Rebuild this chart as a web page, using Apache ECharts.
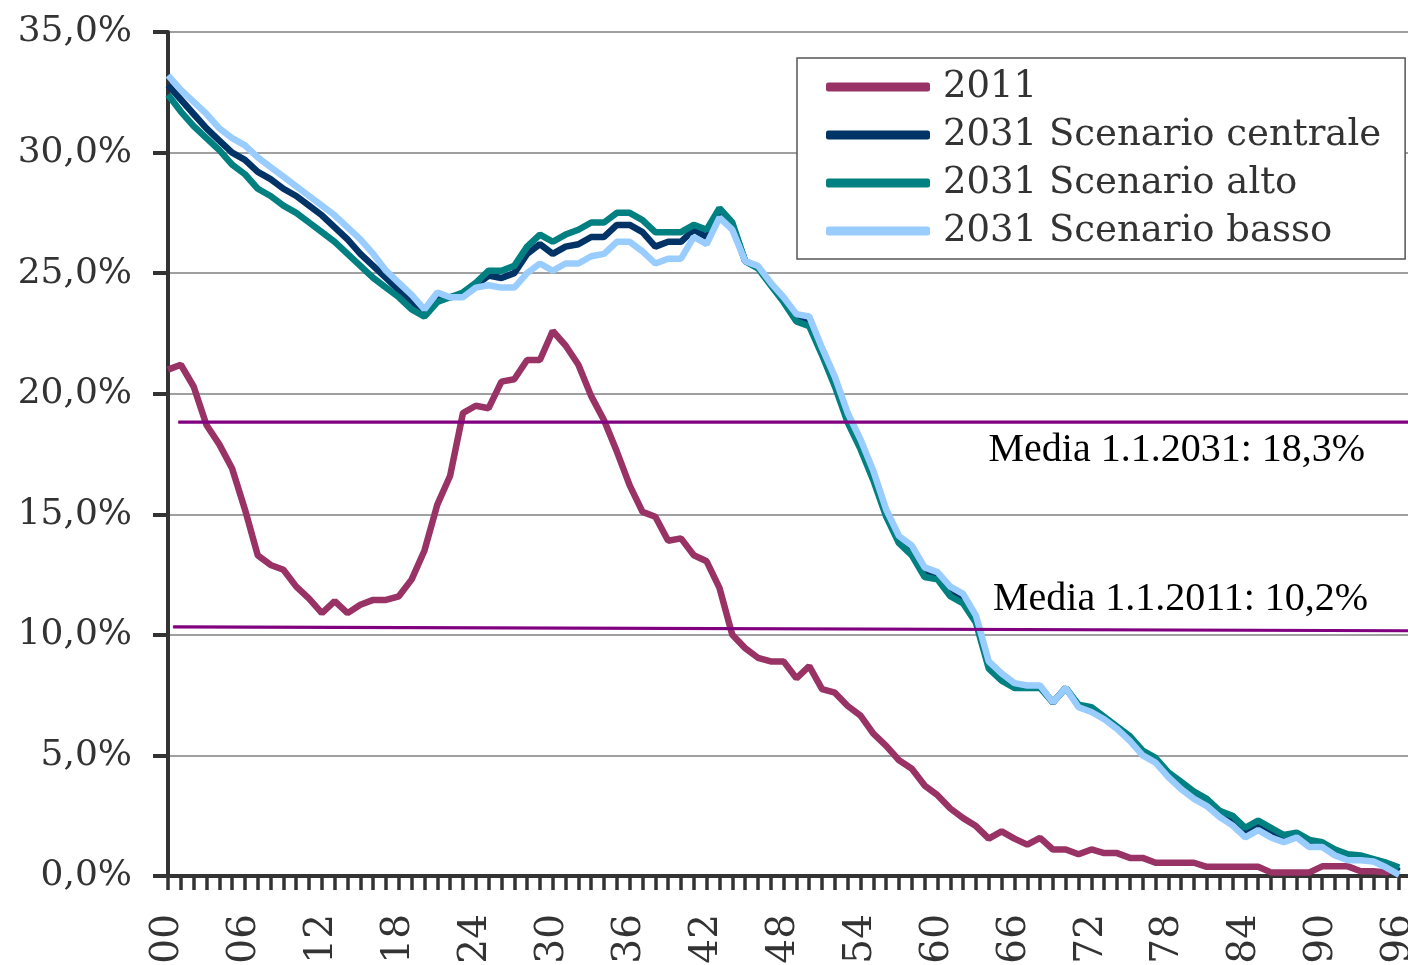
<!DOCTYPE html>
<html>
<head>
<meta charset="utf-8">
<script src="https://cdn.jsdelivr.net/npm/echarts@6/dist/echarts.min.js"></script>
<style>
  html, body { margin: 0; padding: 0; background: #fff; }
  #chart { width: 1408px; height: 965px; }
</style>
</head>
<body>
<div id="chart"></div>
<script>
// share of population by single age 00..96 (%)
const pop2011 = [
  21.0, 21.2, 20.3, 18.7, 17.9, 16.9, 15.2, 13.3, 12.9, 12.7,
  12.0, 11.5, 10.9, 11.4, 10.9, 11.25, 11.45, 11.45, 11.6, 12.3,
  13.5, 15.4, 16.6, 19.2, 19.5, 19.4, 20.5, 20.6, 21.4, 21.4,
  22.6, 22.0, 21.2, 19.9, 18.9, 17.6, 16.2, 15.1, 14.9, 13.9,
  14.0, 13.3, 13.05, 11.95, 10.0, 9.45, 9.05, 8.9, 8.9, 8.2,
  8.7, 7.75, 7.6, 7.05, 6.65, 5.9, 5.4, 4.8, 4.45, 3.75,
  3.35, 2.8, 2.4, 2.07, 1.55, 1.85, 1.55, 1.3, 1.58, 1.1,
  1.1, 0.9, 1.1, 0.95, 0.95, 0.75, 0.75, 0.55, 0.55, 0.55,
  0.55, 0.38, 0.38, 0.38, 0.38, 0.38, 0.15, 0.15, 0.15, 0.15,
  0.4, 0.4, 0.4, 0.2, 0.2, 0.15, 0.38
]
const central2031 = [
  32.8, 32.2, 31.6, 31.0, 30.5, 30.0, 29.7, 29.2, 28.9, 28.5,
  28.2, 27.8, 27.4, 26.9, 26.4, 25.8, 25.3, 24.8, 24.3, 23.8,
  23.3, 24.0, 24.0, 24.1, 24.5, 24.9, 24.8, 25.0, 25.8, 26.2,
  25.8, 26.1, 26.2, 26.5, 26.5, 27.0, 27.0, 26.7, 26.1, 26.3,
  26.3, 26.8, 26.5, 27.5, 27.0, 25.5, 25.25, 24.55, 23.9, 23.15,
  23.0, 21.75, 20.5, 19.0, 17.9, 16.6, 15.05, 13.95, 13.5, 12.6,
  12.45, 11.8, 11.5, 10.65, 8.75, 8.25, 7.9, 7.85, 7.85, 7.2,
  7.8, 7.05, 6.9, 6.55, 6.15, 5.7, 5.1, 4.8, 4.2, 3.75,
  3.35, 3.05, 2.6, 2.3, 1.8, 2.1, 1.8, 1.55, 1.7, 1.35,
  1.3, 0.95, 0.8, 0.75, 0.65, 0.45, 0.2
]
const alto2031 = [
  32.4, 31.7, 31.1, 30.6, 30.1, 29.5, 29.1, 28.5, 28.2, 27.8,
  27.5, 27.1, 26.7, 26.3, 25.8, 25.3, 24.8, 24.4, 24.0, 23.5,
  23.2, 23.8, 24.0, 24.2, 24.6, 25.1, 25.1, 25.3, 26.1, 26.6,
  26.3, 26.6, 26.8, 27.1, 27.1, 27.5, 27.5, 27.2, 26.7, 26.7,
  26.7, 27.0, 26.8, 27.7, 27.1, 25.5, 25.2, 24.5, 23.8, 23.0,
  22.8, 21.6, 20.3, 18.8, 17.7, 16.4, 14.9, 13.8, 13.3, 12.4,
  12.3, 11.6, 11.3, 10.5, 8.6, 8.1, 7.8, 7.8, 7.8, 7.2,
  7.8, 7.1, 7.0, 6.6, 6.2, 5.8, 5.2, 4.9, 4.3, 3.9,
  3.5, 3.2, 2.7, 2.5, 2.0, 2.3, 2.0, 1.7, 1.8, 1.5,
  1.4, 1.1, 0.9, 0.85, 0.7, 0.55, 0.35
]
const basso2031 = [
  33.2, 32.6, 32.1, 31.6, 31.0, 30.6, 30.3, 29.8, 29.4, 29.0,
  28.6, 28.2, 27.8, 27.4, 26.9, 26.4, 25.8, 25.1, 24.6, 24.1,
  23.5, 24.2, 24.0, 24.0, 24.4, 24.5, 24.4, 24.4, 25.0, 25.4,
  25.1, 25.4, 25.4, 25.7, 25.8, 26.3, 26.3, 25.9, 25.4, 25.6,
  25.6, 26.5, 26.2, 27.3, 26.8, 25.5, 25.3, 24.6, 24.0, 23.3,
  23.2, 21.9, 20.7, 19.2, 18.1, 16.8, 15.2, 14.1, 13.7, 12.8,
  12.6, 12.0, 11.7, 10.8, 8.9, 8.4, 8.0, 7.9, 7.9, 7.2,
  7.8, 7.0, 6.8, 6.5, 6.1, 5.6, 5.0, 4.7, 4.1, 3.6,
  3.2, 2.9, 2.45, 2.1, 1.6, 1.9, 1.6, 1.4, 1.6, 1.2,
  1.2, 0.85, 0.65, 0.65, 0.6, 0.35, 0.05
]
// age categories 00..97 (97 is just past the cropped right edge)
const ages = Array.from({ length: 98 }, (_, i) => String(i).padStart(2, '0'))
const labelStep = 6

// reference lines: [age, value] end points
const media2031 = [[0.8, 18.82], [96.7, 18.82]]
const media2011 = [[0.4, 10.33], [96.7, 10.17]]
const media2031Label = 'Media 1.1.2031: 18,3%'
const media2011Label = 'Media 1.1.2011: 10,2%'

const chart = echarts.init(document.getElementById('chart'))

const serif = 'DejaVu Serif'
const lineSeries = (name, data, color) => ({
  name,
  type: 'line',
  symbol: 'none',
  data,
  lineStyle: { color, width: 6.5 },
  itemStyle: { color },
  z: 3,
})

const mediaSeries = (name, pts, label, labelPos, offset) => ({
  name,
  type: 'line',
  xAxisIndex: 1,
  symbol: 'circle',
  symbolSize: 1,
  showSymbol: true,
  silent: true,
  clip: false,
  lineStyle: { color: '#800080', width: 3.2 },
  itemStyle: { color: '#800080' },
  z: 5,
  data: [
    pts[0],
    {
      value: pts[1],
      label: {
        show: true,
        formatter: label,
        position: labelPos,
        align: 'right',
        offset,
        fontFamily: 'Liberation Serif',
        fontSize: 40,
        color: '#000',
      },
    },
  ],
})

const option = {
  animation: false,
  backgroundColor: '#fff',
  grid: {
    left: 168,
    right: -4,
    top: 32,
    bottom: 89,
    containLabel: false,
    outerBoundsMode: 'none',
  },
  legend: {
    orient: 'vertical',
    left: 797,
    top: 58,
    padding: [9, 24, 8, 29],
    itemGap: 8,
    itemWidth: 104,
    itemHeight: 9,
    borderColor: '#555',
    borderWidth: 1.5,
    backgroundColor: '#fff',
    data: [
      { name: '2011', icon: 'roundRect' },
      { name: '2031 Scenario centrale', icon: 'roundRect' },
      { name: '2031 Scenario alto', icon: 'roundRect' },
      { name: '2031 Scenario basso', icon: 'roundRect' },
    ],
    textStyle: {
      fontFamily: serif,
      fontSize: 37,
      lineHeight: 40,
      color: '#333',
      padding: [0, 0, 0, 8],
    },
  },
  xAxis: [
    {
      type: 'category',
      data: ages,
      boundaryGap: false,
      splitLine: { show: false },
      axisLine: { lineStyle: { color: '#333', width: 4 } },
      axisTick: { interval: 0, length: 14, lineStyle: { color: '#333', width: 3.5 } },
      axisLabel: {
        interval: (idx) => idx % labelStep === 0,
        rotate: 90,
        margin: 38,
        fontFamily: serif,
        fontSize: 39,
        color: '#333',
      },
    },
    {
      type: 'value',
      min: 0,
      max: ages.length - 1,
      show: false,
    },
  ],
  yAxis: {
    type: 'value',
    min: 0,
    max: 35,
    interval: 5,
    axisLine: { show: true, lineStyle: { color: '#333', width: 4 } },
    axisTick: { show: true, length: 15, lineStyle: { color: '#333', width: 4 } },
    splitLine: { lineStyle: { color: '#808080', width: 1.5 } },
    axisLabel: {
      margin: 36,
      fontFamily: serif,
      fontSize: 36,
      color: '#333',
      formatter: (v) => v.toFixed(1).replace('.', ',') + '%',
    },
  },
  series: [
    lineSeries('2011', pop2011, '#993366'),
    lineSeries('2031 Scenario centrale', central2031, '#003366'),
    lineSeries('2031 Scenario alto', alto2031, '#008080'),
    lineSeries('2031 Scenario basso', basso2031, '#99CCFF'),
    mediaSeries('media2031', media2031, media2031Label, 'bottom', [-43, 3]),
    mediaSeries('media2011', media2011, media2011Label, 'top', [-40, -6]),
  ],
}

chart.setOption(option)
</script>
</body>
</html>
